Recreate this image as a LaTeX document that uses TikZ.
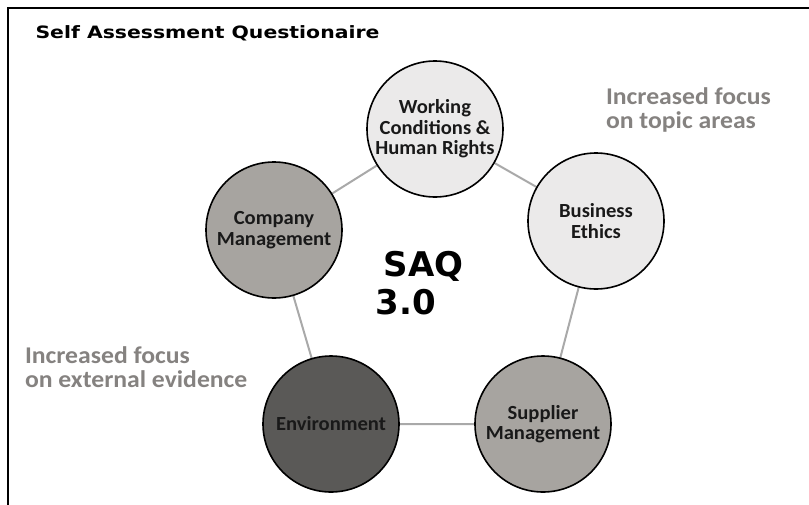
\documentclass[tikz,border=0pt]{standalone}
\usepackage{fontspec}
\usetikzlibrary{backgrounds}
\setmainfont{Carlito}
\newfontfamily\titlefont{DejaVu Sans}[FakeStretch=1.2]
\newfontfamily\bigfont{DejaVu Sans}
\newfontfamily\topicfont{Carlito}[FakeStretch=1.03]
\newfontfamily\notefont{Carlito}[FakeStretch=1.07]
\definecolor{lightfill}{HTML}{EBEAEA}
\definecolor{midfill}{HTML}{A7A4A0}
\definecolor{darkfill}{HTML}{5A5957}
\definecolor{linkgray}{HTML}{A9A9A9}
\definecolor{notegray}{HTML}{858280}
\tikzset{
  topic/.style={circle, draw=black, line width=1.6pt, minimum size=136pt, inner sep=0pt,
    align=center, font=\topicfont\fontsize{20}{20.5}\selectfont\bfseries, text=black!90},
  link/.style={draw=linkgray, line width=2pt},
  note/.style={anchor=north west, align=left, text=notegray,
    font=\notefont\fontsize{24}{24}\selectfont\bfseries},
  big/.style={anchor=west, font=\bigfont\fontsize{34}{36}\selectfont\bfseries},
}
\begin{document}
\begin{tikzpicture}[x=1pt,y=-1pt]
\useasboundingbox (0,0) rectangle (809,504);
\draw[line width=2.5pt, line cap=rect] (8,504) coordinate (bl) -- (8,8) coordinate (tl) -- (809,8) coordinate (tr);
\node[anchor=base west, font=\titlefont\fontsize{17}{19}\selectfont\bfseries] (title) at (32,38.5) {Self Assessment Questionaire};
\node[topic, fill=lightfill] (wc) at (435,129) {Working\\Conditions \&\\Human Rights};
\node[topic, fill=lightfill] (be) at (596,221) {Business\\Ethics};
\node[topic, fill=midfill] (cm) at (274,230) {Company\\Management};
\node[topic, fill=darkfill] (env) at (331,424) {Environment};
\node[topic, fill=midfill] (sm) at (543,424) {Supplier\\Management};
\begin{scope}[on background layer]
\draw[link] (wc.center) -- (be.center) -- (sm.center) -- (env.center) -- (cm.center) -- (wc.center);
\end{scope}
\node[big] (saq) at (380,266) {SAQ};
\node[big] (ver) at (372,302) {3.0};
\node[note] (n1) at (602.5,84) {Increased focus\\on topic areas};
\node[note] (n2) at (21.5,343) {Increased focus\\on external evidence};
\end{tikzpicture}
\end{document}
